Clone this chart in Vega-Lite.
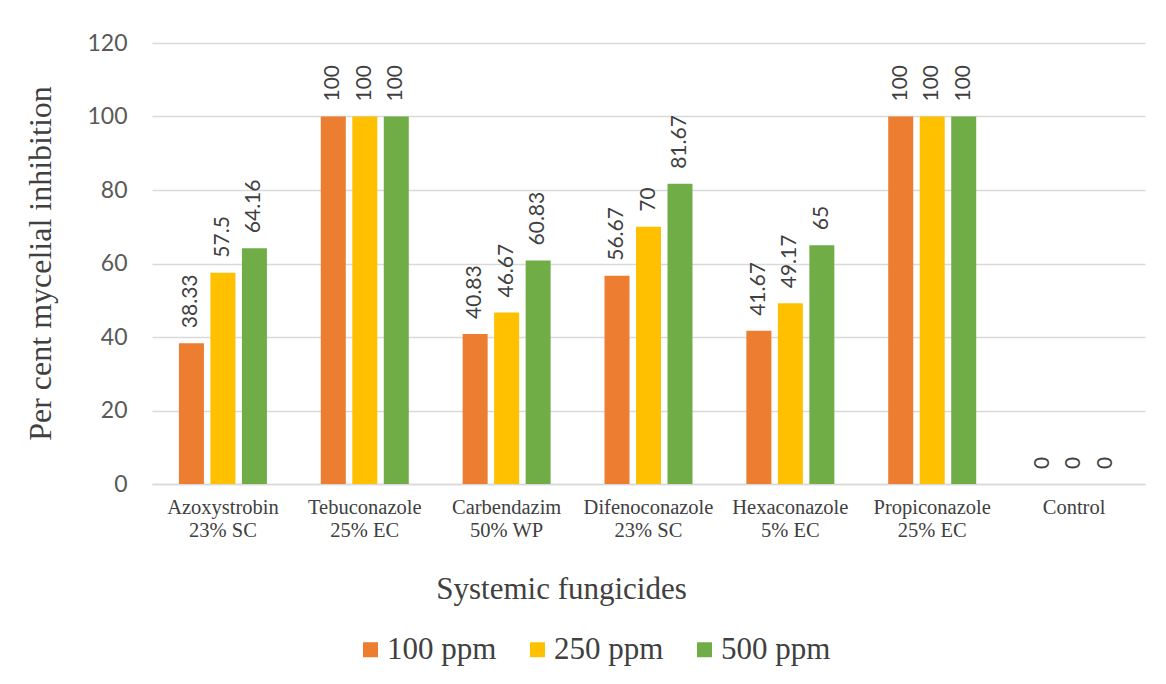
{
  "$schema": "https://vega.github.io/schema/vega-lite/v6.json",
  "width": 993,
  "height": 441,
  "autosize": {"type": "none"},
  "padding": {"left": 152, "top": 43, "right": 21, "bottom": 200},
  "background": "white",
  "config": {"view": {"stroke": null}},
  "data": {
    "values": [
      {"fungicide": "Azoxystrobin 23% SC", "dose": "100 ppm", "value": 38.33},
      {"fungicide": "Azoxystrobin 23% SC", "dose": "250 ppm", "value": 57.5},
      {"fungicide": "Azoxystrobin 23% SC", "dose": "500 ppm", "value": 64.16},
      {"fungicide": "Tebuconazole 25% EC", "dose": "100 ppm", "value": 100},
      {"fungicide": "Tebuconazole 25% EC", "dose": "250 ppm", "value": 100},
      {"fungicide": "Tebuconazole 25% EC", "dose": "500 ppm", "value": 100},
      {"fungicide": "Carbendazim 50% WP", "dose": "100 ppm", "value": 40.83},
      {"fungicide": "Carbendazim 50% WP", "dose": "250 ppm", "value": 46.67},
      {"fungicide": "Carbendazim 50% WP", "dose": "500 ppm", "value": 60.83},
      {"fungicide": "Difenoconazole 23% SC", "dose": "100 ppm", "value": 56.67},
      {"fungicide": "Difenoconazole 23% SC", "dose": "250 ppm", "value": 70},
      {"fungicide": "Difenoconazole 23% SC", "dose": "500 ppm", "value": 81.67},
      {"fungicide": "Hexaconazole 5% EC", "dose": "100 ppm", "value": 41.67},
      {"fungicide": "Hexaconazole 5% EC", "dose": "250 ppm", "value": 49.17},
      {"fungicide": "Hexaconazole 5% EC", "dose": "500 ppm", "value": 65},
      {"fungicide": "Propiconazole 25% EC", "dose": "100 ppm", "value": 100},
      {"fungicide": "Propiconazole 25% EC", "dose": "250 ppm", "value": 100},
      {"fungicide": "Propiconazole 25% EC", "dose": "500 ppm", "value": 100},
      {"fungicide": "Control", "dose": "100 ppm", "value": 0},
      {"fungicide": "Control", "dose": "250 ppm", "value": 0},
      {"fungicide": "Control", "dose": "500 ppm", "value": 0}
    ]
  },
  "encoding": {
    "x": {
      "field": "fungicide",
      "type": "nominal",
      "sort": null,
      "scale": {"paddingInner": 0, "paddingOuter": 0},
      "axis": {
        "title": "Systemic fungicides",
        "titleFont": "Liberation Serif",
        "titleFontSize": 31,
        "titleFontWeight": "normal",
        "titleColor": "#404040",
        "titleX": 409,
        "titleY": 114,
        "titleAlign": "center",
        "titleBaseline": "alphabetic",
        "labelAngle": 0,
        "labelFont": "Liberation Serif",
        "labelFontSize": 20.5,
        "labelColor": "#404040",
        "labelLineHeight": 23,
        "labelPadding": 13,
        "labelBaseline": "top",
        "labelExpr": "indexof(datum.label, ' ') > 0 ? [substring(datum.label, 0, indexof(datum.label, ' ')), substring(datum.label, indexof(datum.label, ' ') + 1)] : datum.label",
        "ticks": false,
        "domainColor": "#d9d9d9",
        "domainWidth": 1.5
      }
    },
    "xOffset": {
      "field": "dose",
      "type": "nominal",
      "scale": {"paddingInner": 0.206, "paddingOuter": 0.855}
    },
    "y": {
      "field": "value",
      "type": "quantitative",
      "scale": {"domain": [0, 120], "nice": false},
      "axis": {
        "values": [0, 20, 40, 60, 80, 100, 120],
        "title": "Per cent mycelial inhibition",
        "titleFont": "Liberation Serif",
        "titleFontSize": 32,
        "titleFontWeight": "normal",
        "titleColor": "#404040",
        "titleAngle": 270,
        "titleX": -112,
        "titleY": 220,
        "titleAlign": "center",
        "titleBaseline": "middle",
        "labelFont": "Lato",
        "labelFontSize": 23,
        "labelColor": "#595959",
        "labelPadding": 25,
        "ticks": false,
        "domain": false,
        "grid": true,
        "gridColor": "#d9d9d9",
        "gridWidth": 1.5
      }
    }
  },
  "layer": [
    {
      "mark": {"type": "bar"},
      "encoding": {
        "color": {
          "field": "dose",
          "type": "nominal",
          "scale": {
            "domain": ["100 ppm", "250 ppm", "500 ppm"],
            "range": ["#ED7D31", "#FFC000", "#70AD47"]
          },
          "legend": {
            "title": null,
            "orient": "none",
            "direction": "horizontal",
            "legendX": 203,
            "legendY": 591,
            "padding": 0,
            "symbolType": "square",
            "symbolSize": 225,
            "symbolStrokeWidth": 0,
            "symbolOpacity": 1,
            "labelFont": "Liberation Serif",
            "labelFontSize": 31,
            "labelColor": "#404040",
            "labelOffset": 1,
            "columnPadding": 25
          }
        }
      }
    },
    {
      "mark": {
        "type": "text",
        "angle": 270,
        "align": "left",
        "baseline": "middle",
        "dx": 15,
        "font": "Lato",
        "fontSize": 21,
        "color": "#404040"
      },
      "encoding": {
        "text": {"field": "value", "type": "nominal"}
      }
    }
  ]
}
